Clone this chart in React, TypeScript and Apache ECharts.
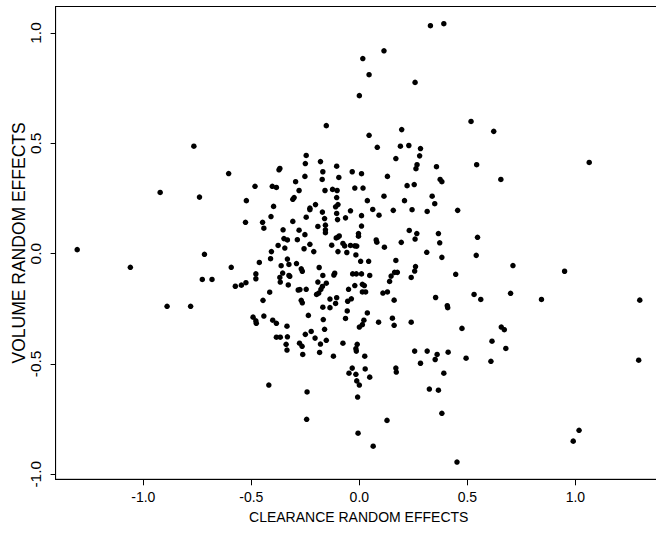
import React, { useEffect, useRef } from "react";
import * as echarts from "echarts";

// Random-effect estimates per subject: clearance (x) vs volume (y)
const clearance: number[] = [
  0.329, 0.391, 0.114, 0.016, 0.045, 0.258, 0.0, 0.517, -0.153, 0.622,
  0.196, 0.045, -0.766, 0.083, 0.19, 0.229, 0.283, -0.246, 0.279, 0.169,
  1.064, -0.18, -0.25, 0.543, 0.267, 0.357, -0.105, -0.368, -0.372, 0.262,
  -0.169, -0.033, -0.605, 0.01, -0.252, 0.13, -0.095, 0.655, -0.172, 0.374,
  0.382, -0.295, 0.254, 0.221, -0.483, -0.403, -0.384, -0.124, -0.279, -0.021,
  0.017, -0.103, -0.159, -0.922, 0.114, 0.337, -0.74, -0.302, -0.105, -0.308,
  -0.523, 0.037, 0.209, 0.349, -0.203, -0.099, -0.397, -0.229, -0.11, 0.062,
  -0.041, 0.244, -0.229, 0.455, 0.314, 0.157, -0.171, -0.105, 0.01, 0.091,
  -0.409, -0.246, -0.064, -0.161, -0.101, -0.308, -0.527, -0.448, -0.192, -0.157,
  0.01, -0.442, -0.353, -0.157, 0.231, -0.279, -0.157, 0.366, 0.266, -0.004,
  -0.252, -0.004, -0.093, 0.547, -0.349, 0.258, -0.099, -0.107, -0.333, -0.287,
  0.078, 0.081, 0.194, 0.372, -0.076, -0.376, -0.229, -0.128, -0.041, -0.021,
  -0.012, -0.068, 0.116, -1.306, -0.256, -0.345, -0.099, -0.211, -0.407, -0.058,
  0.312, -0.717, 0.541, -0.016, 0.382, -0.411, -0.333, 0.006, 0.043, 0.169,
  -0.463, -0.291, -0.326, 0.711, -0.362, -1.06, -0.593, -0.186, 0.26, -0.269,
  -0.264, 0.95, 0.256, 0.176, 0.163, -0.355, -0.479, 0.446, -0.114, -0.031,
  -0.014, 0.01, 0.048, -0.118, -0.169, -0.326, 0.147, -0.368, -0.322, -0.479,
  -0.727, -0.682, -0.366, -0.192, 0.24, 0.14, -0.153, -0.525, -0.546, -0.574,
  -0.329, -0.171, 0.023, -0.021, 0.014, -0.05, -0.283, -0.246, -0.178, -0.275,
  0.014, 0.029, -0.415, -0.188, 0.13, 0.109, 0.7, 0.531, -0.198, 0.353,
  -0.105, -0.136, -0.037, 0.562, 0.843, -0.446, -0.269, -0.054, 0.161, 1.298,
  -0.264, -0.11, -0.89, -0.781, 0.407, 0.409, -0.169, -0.136, -0.056, 0.037,
  -0.236, -0.492, -0.442, -0.064, 0.153, -0.167, 0.021, -0.479, -0.401, 0.089,
  0.24, -0.477, -0.384, 0.014, 0.161, 0.0, -0.335, 0.475, 0.657, -0.161,
  0.671, -0.223, -0.25, -0.384, -0.366, -0.333, -0.205, -0.153, 0.614, -0.277,
  -0.339, -0.18, -0.076, -0.01, -0.265, 0.678, -0.335, -0.016, -0.014, 0.256,
  0.314, -0.184, 0.411, -0.262, 0.36, 0.025, -0.12, 0.494, 0.351, 0.609,
  1.293, 0.283, 0.169, -0.033, 0.027, 0.171, -0.048, -0.016, 0.391, 0.048,
  -0.012, 0.0, -0.419, 0.324, 0.366, -0.242, -0.008, 0.382, -0.244, 0.128,
  1.017, -0.006, 0.99, 0.064, 0.452,
];

const volume: number[] = [
  1.033, 1.042, 0.919, 0.884, 0.811, 0.776, 0.716, 0.599, 0.58, 0.554,
  0.562, 0.536, 0.487, 0.482, 0.487, 0.49, 0.476, 0.445, 0.443, 0.431,
  0.413, 0.417, 0.408, 0.403, 0.403, 0.394, 0.396, 0.386, 0.38, 0.385,
  0.371, 0.371, 0.363, 0.362, 0.35, 0.35, 0.345, 0.336, 0.336, 0.336,
  0.326, 0.326, 0.313, 0.308, 0.305, 0.305, 0.3, 0.291, 0.286, 0.297,
  0.297, 0.286, 0.286, 0.277, 0.26, 0.26, 0.256, 0.254, 0.254, 0.246,
  0.24, 0.24, 0.24, 0.226, 0.222, 0.222, 0.214, 0.206, 0.212, 0.2,
  0.194, 0.199, 0.199, 0.196, 0.191, 0.196, 0.188, 0.182, 0.172, 0.174,
  0.168, 0.165, 0.162, 0.159, 0.154, 0.146, 0.142, 0.142, 0.123, 0.129,
  0.125, 0.115, 0.108, 0.108, 0.105, 0.106, 0.095, 0.091, 0.091, 0.091,
  0.086, 0.079, 0.08, 0.074, 0.068, 0.066, 0.075, 0.071, 0.062, 0.063,
  0.062, 0.052, 0.051, 0.049, 0.046, 0.037, 0.042, 0.038, 0.037, 0.035,
  0.034, 0.035, 0.029, 0.018, 0.022, 0.025, 0.009, 0.009, 0.009, 0.005,
  0.006, -0.003, -0.008, -0.006, -0.017, -0.023, -0.025, -0.035, -0.035, -0.031,
  -0.04, -0.045, -0.049, -0.054, -0.055, -0.062, -0.062, -0.063, -0.059, -0.069,
  -0.08, -0.08, -0.079, -0.085, -0.085, -0.088, -0.092, -0.094, -0.089, -0.092,
  -0.092, -0.092, -0.099, -0.097, -0.099, -0.099, -0.102, -0.108, -0.103, -0.114,
  -0.117, -0.117, -0.129, -0.129, -0.108, -0.126, -0.134, -0.132, -0.143, -0.148,
  -0.142, -0.149, -0.145, -0.145, -0.139, -0.162, -0.165, -0.162, -0.162, -0.163,
  -0.174, -0.174, -0.175, -0.179, -0.174, -0.179, -0.18, -0.185, -0.185, -0.199,
  -0.2, -0.206, -0.205, -0.208, -0.208, -0.212, -0.212, -0.216, -0.211, -0.211,
  -0.223, -0.226, -0.239, -0.239, -0.236, -0.245, -0.243, -0.245, -0.26, -0.269,
  -0.28, -0.288, -0.283, -0.294, -0.293, -0.299, -0.302, -0.305, -0.302, -0.311,
  -0.311, -0.316, -0.316, -0.322, -0.325, -0.333, -0.329, -0.339, -0.333, -0.343,
  -0.345, -0.353, -0.366, -0.379, -0.379, -0.377, -0.383, -0.393, -0.397, -0.406,
  -0.411, -0.41, -0.406, -0.411, -0.42, -0.43, -0.437, -0.431, -0.442, -0.442,
  -0.442, -0.448, -0.447, -0.457, -0.457, -0.465, -0.465, -0.474, -0.48, -0.488,
  -0.483, -0.497, -0.519, -0.519, -0.523, -0.537, -0.542, -0.547, -0.542, -0.56,
  -0.577, -0.596, -0.596, -0.614, -0.619, -0.627, -0.65, -0.724, -0.751, -0.756,
  -0.801, -0.814, -0.85, -0.873, -0.945,
];

// Tick positions shown on both axes
const tickValues: number[] = [-1.0, -0.5, 0.0, 0.5, 1.0];

const xTitle = "CLEARANCE RANDOM EFFECTS";
const yTitle = "VOLUME RANDOM EFFECTS";

const FONT = "'Liberation Sans', Arial, sans-serif";

export default function App() {
  const ref = useRef<HTMLDivElement>(null);

  useEffect(() => {
    if (!ref.current) return;
    const chart = echarts.init(ref.current, undefined, { renderer: "svg" });
    const points = clearance.map((x, i) => [x, volume[i]]);
    const fmt = (v: number) => v.toFixed(1);

    chart.setOption({
      animation: false,
      backgroundColor: "#ffffff",
      grid: {
        left: 55.6,
        top: 6.5,
        width: 606.2,
        height: 472.8,
        outerBoundsMode: "none",
        containLabel: false,
        show: true,
        borderColor: "#000000",
        borderWidth: 1,
        backgroundColor: "transparent",
      },
      xAxis: {
        type: "value",
        min: -1.406,
        max: 1.4,
        name: xTitle,
        nameLocation: "middle",
        nameGap: 31,
        nameMoveOverlap: false,
        nameTextStyle: { color: "#000", fontFamily: FONT, fontSize: 14 },
        axisLine: { show: true, onZero: false, lineStyle: { color: "#000", width: 1 } },
        axisTick: { show: true, length: 6, customValues: tickValues, lineStyle: { color: "#000" } },
        axisLabel: {
          customValues: tickValues,
          formatter: fmt,
          color: "#000",
          fontFamily: FONT,
          fontSize: 14,
          margin: 11,
        },
        splitLine: { show: false },
      },
      yAxis: {
        type: "value",
        min: -1.023,
        max: 1.12,
        name: yTitle,
        nameLocation: "middle",
        nameGap: 28,
        nameRotate: 90,
        nameMoveOverlap: false,
        nameTextStyle: { color: "#000", fontFamily: FONT, fontSize: 17.5 },
        axisLine: { show: true, onZero: false, lineStyle: { color: "#000", width: 1 } },
        axisTick: { show: true, length: 5, customValues: tickValues, lineStyle: { color: "#000" } },
        axisLabel: {
          customValues: tickValues,
          formatter: fmt,
          rotate: 90,
          color: "#000",
          fontFamily: FONT,
          fontSize: 15.5,
          margin: 12,
        },
        splitLine: { show: false },
      },
      series: [
        {
          type: "scatter",
          data: points,
          symbol: "circle",
          symbolSize: 5.5,
          itemStyle: { color: "#000000", opacity: 1 },
        },
      ],
    });

    return () => chart.dispose();
  }, []);

  return (
    <div
      style={{
        position: "fixed",
        left: 0,
        top: 0,
        width: 656,
        height: 533,
        overflow: "hidden",
        background: "#fff",
      }}
    >
      <div ref={ref} style={{ width: 680, height: 533 }} />
    </div>
  );
}
